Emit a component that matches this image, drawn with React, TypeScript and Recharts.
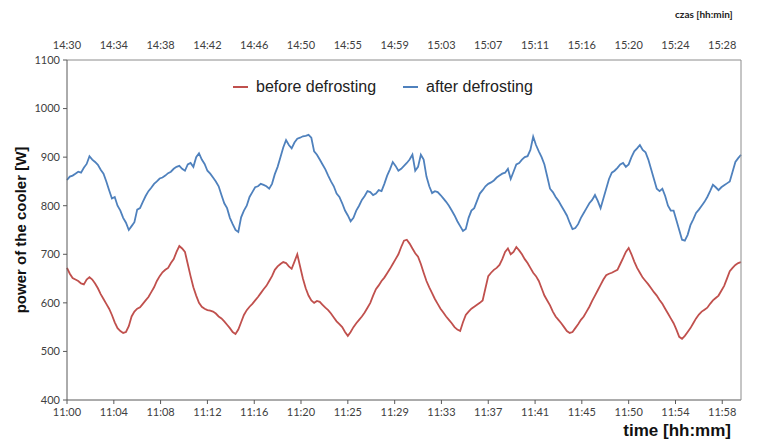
import React from "react";
import { LineChart, Line, XAxis, YAxis } from "recharts";

// sampled every quarter minute, 11:00 -> 12:00 (one row = 2.5 min)
const beforeDefrosting = [
  672, 660, 651, 648, 645, 640, 638, 648, 653, 648,
  640, 630, 618, 608, 598, 588, 575, 560, 548, 542,
  538, 540, 552, 572, 582, 588, 591, 598, 605, 612,
  622, 632, 645, 655, 663, 668, 672, 682, 690, 705,
  717, 712, 705, 680, 655, 632, 615, 600, 592, 588,
  585, 584, 582, 578, 572, 568, 562, 555, 548, 540,
  536, 545, 560, 575, 585, 592, 598, 605, 612, 620,
  628, 635, 645, 655, 668, 675, 680, 684, 682, 675,
  670, 685, 700, 675, 650, 630, 615, 605, 600, 604,
  602, 596, 590, 585, 578, 570, 562, 556, 550, 540,
  532, 540, 550, 558, 565, 572, 580, 590, 600, 615,
  628, 636, 645, 652, 661, 670, 680, 690, 700, 715,
  728, 730, 722, 712, 702, 695, 680, 662, 645, 632,
  620, 608, 598, 588, 580, 572, 565, 558, 550, 545,
  542, 560, 575, 582, 588, 592, 596, 600, 605, 630,
  655, 662, 668, 672, 678, 690, 705, 712, 700, 705,
  715, 708, 700, 690, 682, 672, 662, 655, 645, 630,
  615, 605, 595, 582, 572, 565, 558, 550, 542, 538,
  540, 548, 556, 565, 572, 582, 592, 604, 615, 626,
  637, 648, 657, 660, 662, 665, 668, 680, 692, 705,
  713, 700, 685, 672, 662, 652, 645, 638, 630, 622,
  615, 606, 598, 588, 578, 568, 558, 545, 530, 526,
  532, 540, 548, 558, 568, 576, 582, 586, 590, 598,
  605, 610, 615, 625, 635, 650, 665, 672, 678, 682,
  684,
];

const afterDefrosting = [
  853, 860, 862, 866, 870, 868, 878, 886, 902, 895,
  890, 884, 874, 866, 850, 832, 815, 818, 800, 790,
  775, 765, 750, 758, 766, 792, 795, 808, 820, 830,
  837, 845, 850, 856, 858, 862, 867, 870, 876, 880,
  882, 876, 872, 885, 888, 880, 900, 908, 895, 886,
  872, 866, 858, 850, 840, 822, 805, 795, 775, 762,
  750, 746, 776, 790, 800, 818, 828, 838, 840, 845,
  843, 840, 835, 845, 865, 880, 900, 920, 935, 925,
  918, 930, 938, 940, 943, 944, 946, 940, 912, 905,
  895, 885, 875, 862, 850, 840, 825, 818, 805, 790,
  780, 768, 775, 790, 800, 812, 820, 830, 828, 822,
  825, 832, 830, 845, 862, 875, 890, 882, 872, 876,
  882, 888, 895, 905, 872, 880, 905, 895, 860, 840,
  826, 830, 828, 822, 815, 808, 800, 790, 780, 768,
  758, 748, 752, 775, 790, 795, 810, 825, 832, 840,
  845, 848, 852, 858, 862, 866, 868, 876, 855, 870,
  885, 888, 895, 900, 902, 915, 942, 925, 912, 900,
  885, 860, 835, 828, 818, 810, 800, 790, 780, 765,
  752, 754, 762, 775, 785, 795, 805, 812, 822, 810,
  795, 815, 835, 855, 868, 872, 878, 885, 888, 880,
  885, 900, 912, 918, 925, 915, 910, 895, 875, 855,
  835, 830, 835, 820, 800, 790, 790, 770, 750, 730,
  728, 740, 760, 772, 785, 792, 800, 808, 818, 830,
  843, 838, 832, 838, 842, 846, 850, 870, 890, 898,
  905,
];

const sampleStepMin = 0.25;

const tickMinutes = [0, 4.17, 8.33, 12.5, 16.67, 20.83, 25, 29.17, 33.33, 37.5, 41.67, 45.83, 50, 54.17, 58.33];
const bottomLabels = ["11:00", "11:04", "11:08", "11:12", "11:16", "11:20", "11:25", "11:29", "11:33", "11:37", "11:41", "11:45", "11:50", "11:54", "11:58"];
const topLabels = ["14:30", "14:34", "14:38", "14:42", "14:46", "14:50", "14:55", "14:59", "15:03", "15:07", "15:11", "15:16", "15:20", "15:24", "15:28"];
const yTicks = [400, 500, 600, 700, 800, 900, 1000, 1100];

const data = beforeDefrosting.map((v, i) => ({
  t: i * sampleStepMin,
  before: v,
  after: afterDefrosting[i],
}));

const RED = "#C0504D";
const BLUE = "#4F81BD";
const tickStyle = { fontSize: 11, fill: "#404040", fontFamily: "Lato, sans-serif" };
const arial = "'Liberation Sans', Arial, sans-serif";

function LegendItem({ color, label }: { color: string; label: string }) {
  return (
    <span style={{ display: "inline-flex", alignItems: "center", marginRight: 27 }}>
      <span style={{ display: "inline-block", width: 15, height: 2, background: color, marginRight: 8 }} />
      <span>{label}</span>
    </span>
  );
}

export default function App() {
  return (
    <div style={{ position: "absolute", left: 0, top: 0, width: 772, height: 444, background: "#fff" }}>
      <LineChart width={772} height={444} data={data} margin={{ top: 40, right: 5, bottom: 20, left: 27 }}>
        <XAxis
          xAxisId="bottom"
          dataKey="t"
          type="number"
          domain={[0, 60]}
          ticks={tickMinutes}
          tickFormatter={(_v: number, i: number) => bottomLabels[i]}
          tick={tickStyle}
          stroke="#595959"
          tickSize={4}
          tickMargin={4}
          height={24}
          interval={0}
        />
        <XAxis
          xAxisId="top"
          orientation="top"
          dataKey="t"
          type="number"
          domain={[0, 60]}
          ticks={tickMinutes}
          tickFormatter={(_v: number, i: number) => topLabels[i]}
          tick={tickStyle}
          stroke="#8c8c8c"
          tickLine={false}
          tickMargin={5}
          height={20}
          interval={0}
        />
        <YAxis
          yAxisId="left"
          domain={[400, 1100]}
          ticks={yTicks}
          tick={tickStyle}
          stroke="#595959"
          tickSize={4}
          tickMargin={3}
          width={40}
          interval={0}
        />
        <YAxis
          yAxisId="right"
          orientation="right"
          domain={[400, 1100]}
          ticks={yTicks}
          tick={tickStyle}
          stroke="#8c8c8c"
          tickSize={4}
          tickMargin={3}
          width={26}
          interval={0}
        />
        <Line xAxisId="bottom" yAxisId="left" type="linear" dataKey="before" stroke={RED} strokeWidth={1.8} dot={false} isAnimationActive={false} />
        <Line xAxisId="bottom" yAxisId="left" type="linear" dataKey="after" stroke={BLUE} strokeWidth={1.8} dot={false} isAnimationActive={false} />
      </LineChart>
      <div
        style={{
          position: "absolute",
          left: 233,
          top: 74,
          fontFamily: arial,
          fontSize: 16,
          color: "#222",
          whiteSpace: "nowrap",
        }}
      >
        <LegendItem color={RED} label="before defrosting" />
        <LegendItem color={BLUE} label="after defrosting" />
      </div>
      <div
        style={{
          position: "absolute",
          left: 675,
          top: 8,
          fontFamily: "Lato, sans-serif",
          fontWeight: 700,
          fontSize: 10,
          color: "#222",
        }}
      >
        czas [hh:min]
      </div>
      <div
        style={{
          position: "absolute",
          left: 20,
          top: 230,
          transform: "translate(-50%, -50%) rotate(-90deg)",
          fontFamily: arial,
          fontWeight: 700,
          fontSize: 15,
          color: "#111",
          whiteSpace: "nowrap",
        }}
      >
        power of the cooler [W]
      </div>
      <div
        style={{
          position: "absolute",
          right: 41,
          top: 421,
          fontFamily: arial,
          fontWeight: 700,
          fontSize: 17,
          color: "#111",
          whiteSpace: "nowrap",
        }}
      >
        time [hh:mm]
      </div>
    </div>
  );
}
